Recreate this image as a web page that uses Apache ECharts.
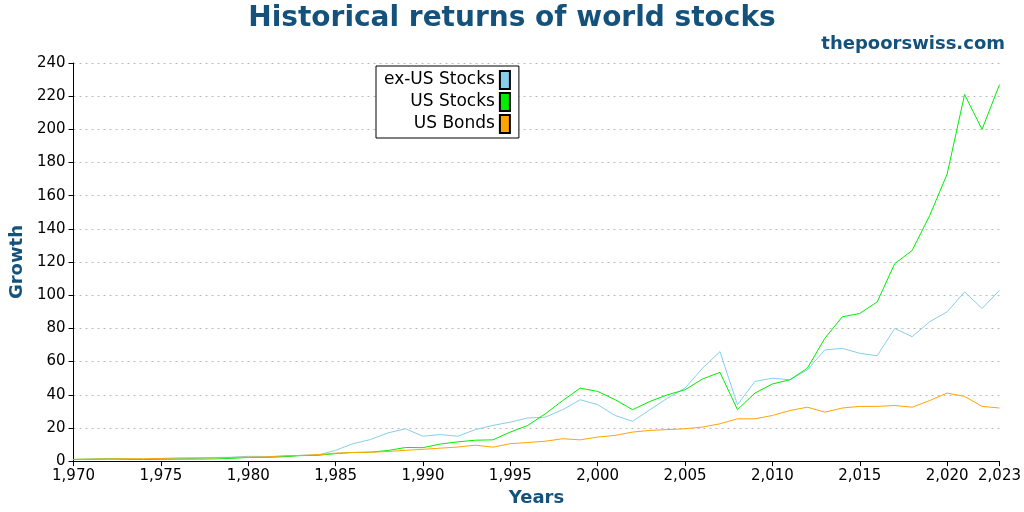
<!DOCTYPE html>
<html>
<head>
<meta charset="utf-8">
<script src="https://cdn.jsdelivr.net/npm/echarts@6/dist/echarts.min.js"></script>
<style>html,body{margin:0;padding:0;background:#fff}#chart{width:1024px;height:512px}</style>
</head>
<body>
<div id="chart"></div>
<script>
var years = [];
for (var y = 1970; y <= 2023; y++) years.push(y);
var exUS = [1,1.2,1.5,1.3,1,1.4,1.4,1.6,2.2,2.3,2.9,2.8,2.8,3.5,3.7,6.5,10.5,13,17,19.5,15,16,15,19,21.5,23.5,26,26.5,31,37,34,27.5,24,31,38,44,56,66,34,48,50,49,55,67,68,65,63.5,80,75,84,90,102,92,103];
var usStocks = [1,1.1,1.2,1.1,1,1.1,1.2,1.2,1.3,1.6,2.2,2.2,2.6,3.3,3.5,4.5,5.2,5.4,6.4,8.2,8.1,10.3,11.6,12.6,12.8,17.5,21.5,28.5,36.5,44,42,37,31,36,40,43,49.5,53.5,31,41,46.5,49,56,74,87,89,96,119,127,148,173,221,200,227];
var usBonds = [1,1.2,1.3,1.4,1.4,1.6,1.9,2,2,2.2,2.4,2.5,3.2,3.4,3.9,4.8,5.2,5.3,5.8,6.5,7.1,7.8,8.5,9.6,8.4,10.5,11.2,12,13.5,12.8,14.5,15.5,17.5,18.5,19,19.5,20.5,22.5,25.5,25.5,27.5,30.5,32.5,29.5,32,33,33,33.5,32.5,36.5,41,39,33,32];

function pairs(vals){ return years.map(function(y,i){ return [y, vals[i]]; }); }
var blue = '#14527c';
var chart = echarts.init(document.getElementById('chart'));
chart.setOption({
	animation: false,
	title: [
		{ text: 'Historical returns of world stocks', left: 'center', top: 0,
		  textStyle: { fontFamily: 'DejaVu Sans', fontSize: 28, fontWeight: 'bold', color: blue } },
		{ text: 'thepoorswiss.com', right: 14, top: 30,
		  textStyle: { fontFamily: 'DejaVu Sans', fontSize: 18, fontWeight: 'bold', color: blue } }
	],
	grid: { left: 62, right: 14, top: 63, bottom: 48 },
	legend: {
		left: 376, top: 66, orient: 'vertical', align: 'right',
		backgroundColor: '#fff', borderColor: '#000', borderWidth: 1,
		padding: [4, 8, 4, 8], itemGap: 2, itemWidth: 10, itemHeight: 18,
		icon: 'rect',
		textStyle: { fontFamily: 'DejaVu Sans', fontSize: 17, color: '#000' },
		data: ['ex-US Stocks', 'US Stocks', 'US Bonds']
	},
	xAxis: {
		type: 'value', min: 1970, max: 2023, interval: 5,
		name: 'Years', nameLocation: 'middle', nameGap: 26,
		nameTextStyle: { fontFamily: 'DejaVu Sans', fontSize: 18, fontWeight: 'bold', color: blue },
		axisLine: { lineStyle: { color: '#000' } },
		axisTick: { lineStyle: { color: '#000' } },
		axisLabel: { fontFamily: 'DejaVu Sans', fontSize: 15, color: '#000' },
		splitLine: { show: false }
	},
	yAxis: {
		type: 'value', min: 0, max: 240, interval: 20,
		name: 'Growth', nameLocation: 'middle', nameGap: 40,
		nameTextStyle: { fontFamily: 'DejaVu Sans', fontSize: 18, fontWeight: 'bold', color: blue },
		axisLine: { show: true, lineStyle: { color: '#000' } },
		axisTick: { show: true, lineStyle: { color: '#000' } },
		axisLabel: { fontFamily: 'DejaVu Sans', fontSize: 15, color: '#000' },
		splitLine: { lineStyle: { color: '#bbb', type: [2, 4] } }
	},
	series: [
		{ name: 'ex-US Stocks', type: 'line', data: pairs(exUS), showSymbol: false, color: '#87ceeb',
		  lineStyle: { width: 1 }, itemStyle: { borderColor: '#000', borderWidth: 1 } },
		{ name: 'US Stocks', type: 'line', data: pairs(usStocks), showSymbol: false, color: '#00ee00',
		  lineStyle: { width: 1 }, itemStyle: { borderColor: '#000', borderWidth: 1 } },
		{ name: 'US Bonds', type: 'line', data: pairs(usBonds), showSymbol: false, color: '#ffa500',
		  lineStyle: { width: 1 }, itemStyle: { borderColor: '#000', borderWidth: 1 } }
	]
});
</script>
</body>
</html>
